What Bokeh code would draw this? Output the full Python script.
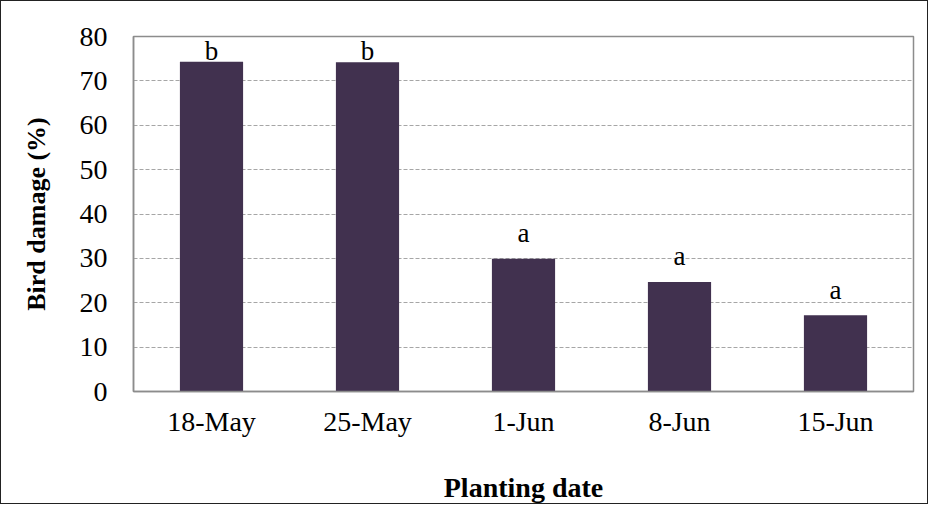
from bokeh.plotting import figure
from bokeh.models import ColumnDataSource, FactorRange, Range1d, SingleIntervalTicker
from bokeh.core.properties import value
from bokeh.embed import file_html
from bokeh.resources import INLINE
import numpy as np

# Data
dates = ["18-May", "25-May", "1-Jun", "8-Jun", "15-Jun"]
damage = [74.3, 74.2, 29.9, 24.7, 17.2]
letters = ["b", "b", "a", "a", "a"]

FONT = "Liberation Serif"
BAR = "#41314f"

vals = np.array(damage)
label_y = np.minimum(vals + 3.7, 74.8)

src = ColumnDataSource(data=dict(x=dates, top=damage, lab=letters, ly=label_y))

p = figure(x_range=FactorRange(*dates, range_padding=0), y_range=Range1d(0, 80),
           width=928, height=504, output_backend="svg", toolbar_location=None,
           min_border_left=132, min_border_top=35, min_border_right=16, min_border_bottom=110)

p.vbar(x="x", top="top", width=0.405, source=src, fill_color=BAR, line_color=None)
p.text(x="x", y="ly", text="lab", source=src, text_align="center", text_baseline="alphabetic",
       y_offset=-9, text_font=value(FONT), text_font_size="27px", text_color="#000000")

p.outline_line_color = "#8c8c8c"
p.outline_line_width = 1.5
p.xgrid.grid_line_color = None
p.ygrid.grid_line_color = "#a6a6a6"
p.ygrid.grid_line_dash = "4 2"
p.ygrid.grid_line_width = 1

p.yaxis.ticker = SingleIntervalTicker(interval=10)
for ax in (p.xaxis[0], p.yaxis[0]):
    ax.axis_line_color = "#8c8c8c"
    ax.axis_line_width = 1.5
    ax.major_tick_line_color = None
    ax.minor_tick_line_color = None
    ax.major_tick_out = 0
    ax.major_tick_in = 0
    ax.major_label_text_font = FONT
    ax.major_label_text_font_size = "28px"
    ax.major_label_text_color = "#000000"
    ax.axis_label_text_font = FONT
    ax.axis_label_text_font_style = "bold"
    ax.axis_label_text_color = "#000000"

p.yaxis.axis_label = "Bird damage (%)"
p.xaxis.axis_label = "Planting date"
p.yaxis.axis_label_text_font_size = "26px"
p.xaxis.axis_label_text_font_size = "28px"
p.yaxis.major_label_standoff = 22
p.yaxis.axis_label_standoff = 26
p.xaxis.major_label_standoff = 14
p.xaxis.axis_label_standoff = 32

p.styles = {"border": "1.5px solid #222222", "box-sizing": "border-box"}

open("out.html", "w").write(file_html(p, INLINE))
